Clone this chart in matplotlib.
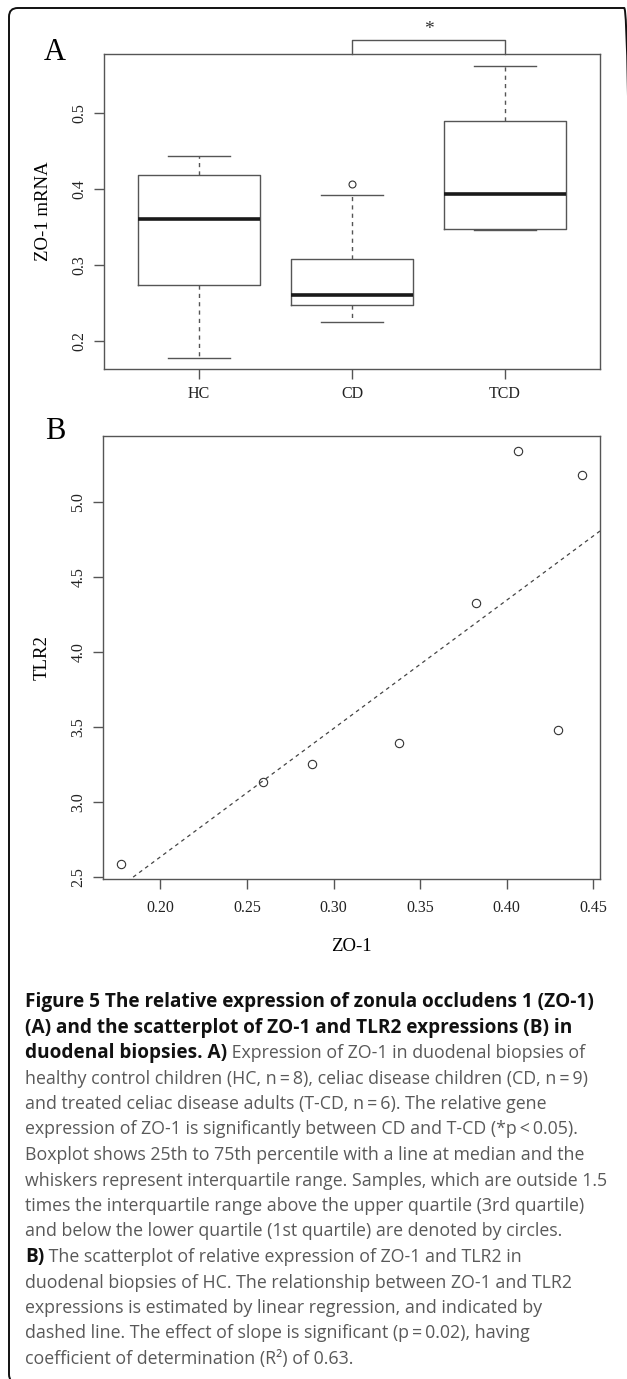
import numpy as np
import matplotlib.pyplot as plt
from matplotlib.patches import FancyBboxPatch

# ---- data ----
groups = ['HC', 'CD', 'TCD']
# boxplot stats
whis_lo = [0.178, 0.2246, 0.346]
q1 = [0.2737, 0.2470, 0.3470]
med = [0.3605, 0.2609, 0.3934]
q3 = [0.4188, 0.3075, 0.4899]
whis_hi = [0.4438, 0.3925, 0.5618]
fliers = [[], [0.4062], []]

# scatter (HC) panel B
zo1 = [0.1773, 0.2592, 0.2876, 0.3378, 0.3824, 0.4067, 0.4298, 0.4437]
tlr2 = [2.585, 3.135, 3.255, 3.392, 4.329, 5.338, 3.477, 5.182]

a_yticks = [0.2, 0.3, 0.4, 0.5]
b_xticks = [0.20, 0.25, 0.30, 0.35, 0.40, 0.45]
b_yticks = [2.5, 3.0, 3.5, 4.0, 4.5, 5.0]

serif = 'Liberation Serif'
W, H = 627, 1379
fig = plt.figure(figsize=(W / 100, H / 100), dpi=100)

def frac(x0, y0, x1, y1):
    # pixel box -> figure fraction [l, b, w, h]
    return [x0 / W, 1 - y1 / H, (x1 - x0) / W, (y1 - y0) / H]

box_col = '#555555'

def r_axes(ax):
    for s in ax.spines.values():
        s.set_color(box_col)
        s.set_linewidth(1.0)
    ax.tick_params(direction='out', length=7, width=1.0, color=box_col,
                   labelsize=11.5, labelcolor='#222222', pad=5)
    for lab in ax.get_xticklabels() + ax.get_yticklabels():
        lab.set_family(serif)

# ---- panel A ----
axA = fig.add_axes(frac(104, 54, 600, 369))
stats = []
for i in range(3):
    stats.append(dict(whislo=whis_lo[i], q1=q1[i], med=med[i], q3=q3[i],
                      whishi=whis_hi[i], fliers=fliers[i]))
axA.bxp(stats, positions=[1, 2, 3], widths=0.8, showfliers=True,
        boxprops=dict(color=box_col, linewidth=1.0),
        medianprops=dict(color='#1a1a1a', linewidth=2.6),
        whiskerprops=dict(color=box_col, linewidth=1.0, linestyle=(0, (3, 3))),
        capprops=dict(color=box_col, linewidth=1.0),
        capwidths=0.4,
        flierprops=dict(marker='o', markersize=5, markerfacecolor='none',
                        markeredgecolor='#333333', markeredgewidth=0.8))
axA.set_xlim(0.38, 3.62)
axA.set_ylim(0.163, 0.5776)
axA.set_yticks(a_yticks)
axA.set_yticklabels(['0.2', '0.3', '0.4', '0.5'], rotation=90, va='center')
axA.set_xticks([1, 2, 3])
axA.set_xticklabels(groups)
axA.set_ylabel('ZO-1 mRNA', family=serif, fontsize=13.5, labelpad=14)
r_axes(axA)

# significance bracket between CD and TCD
ytop = 0.5776 + (14 / 315) * (0.5776 - 0.163)
axA.plot([2, 2, 3, 3], [0.5776, ytop, ytop, 0.5776], color=box_col, lw=1.0,
         clip_on=False)
axA.text(2.5, ytop + 0.002, '*', ha='center', va='bottom', family=serif,
         fontsize=14, color='#333333')

# ---- panel B ----
axB = fig.add_axes(frac(103, 436, 600, 879))
axB.plot(zo1, tlr2, 'o', markersize=6, markerfacecolor='none',
         markeredgecolor='#333333', markeredgewidth=0.8)
xl = (0.1668, 0.454)
slope, icpt = np.polyfit(zo1, tlr2, 1)
xs = np.array(xl)
axB.plot(xs, icpt + slope * xs, color='#444444', lw=0.9, linestyle=(0, (3, 3)))
axB.set_xlim(*xl)
axB.set_ylim(2.487, 5.44)
axB.set_xticks(b_xticks)
axB.set_xticklabels(['%.2f' % v for v in b_xticks])
axB.set_yticks(b_yticks)
axB.set_yticklabels(['%.1f' % v for v in b_yticks], rotation=90, va='center')
axB.set_xlabel('ZO-1', family=serif, fontsize=13.5, labelpad=16)
axB.set_ylabel('TLR2', family=serif, fontsize=13.5, labelpad=14)
r_axes(axB)
axB.tick_params(axis='x', pad=8)

# panel letters
fig.text(55 / W, 1 - 53 / H, 'A', family=serif, fontsize=22, ha='center', va='center')
fig.text(55 / W, 1 - 432 / H, 'B', family=serif, fontsize=22, ha='center', va='center')

# ---- caption ----
cap_font = 'Open Sans'
bold_size = 13.7
reg_size = 12.8
gray = '#595959'
lines = [
    [('Figure 5 The relative expression of zonula occludens 1 (ZO-1)', True)],
    [('(A) and the scatterplot of ZO-1 and TLR2 expressions (B) in', True)],
    [('duodenal biopsies. A)', True), (' Expression of ZO-1 in duodenal biopsies of', False)],
    [('healthy control children (HC, n\u2009=\u20098), celiac disease children (CD, n\u2009=\u20099)', False)],
    [('and treated celiac disease adults (T-CD, n\u2009=\u20096). The relative gene', False)],
    [('expression of ZO-1 is significantly between CD and T-CD (*p\u2009<\u20090.05).', False)],
    [('Boxplot shows 25th to 75th percentile with a line at median and the', False)],
    [('whiskers represent interquartile range. Samples, which are outside 1.5', False)],
    [('times the interquartile range above the upper quartile (3rd quartile)', False)],
    [('and below the lower quartile (1st quartile) are denoted by circles.', False)],
    [('B)', True), (' The scatterplot of relative expression of ZO-1 and TLR2 in', False)],
    [('duodenal biopsies of HC. The relationship between ZO-1 and TLR2', False)],
    [('expressions is estimated by linear regression, and indicated by', False)],
    [('dashed line. The effect of slope is significant (p\u2009=\u20090.02), having', False)],
    [('coefficient of determination (R\u00b2) of 0.63.', False)],
]
renderer = fig.canvas.get_renderer()
y0 = 1007
dy = 25.5
for i, parts in enumerate(lines):
    x = 25
    yb = y0 + i * dy
    for txt, bold in parts:
        t = fig.text(x / W, 1 - yb / H, txt, family=cap_font,
                     fontsize=bold_size if bold else reg_size,
                     fontweight='bold' if bold else 'normal',
                     color='#111111' if bold else gray, va='baseline', ha='left')
        x += t.get_window_extent(renderer).width

# outer rounded frame (right and bottom sides run just off the canvas)
frame = FancyBboxPatch((9 / W, 1 - 1383 / H), (633 - 9) / W, (1383 - 8) / H,
                       boxstyle='round,pad=0,rounding_size=0.014',
                       transform=fig.transFigure, fill=False,
                       edgecolor='#111111', linewidth=1.4,
                       mutation_aspect=W / H)
fig.patches.append(frame)

fig.savefig('out.png', dpi=100)
